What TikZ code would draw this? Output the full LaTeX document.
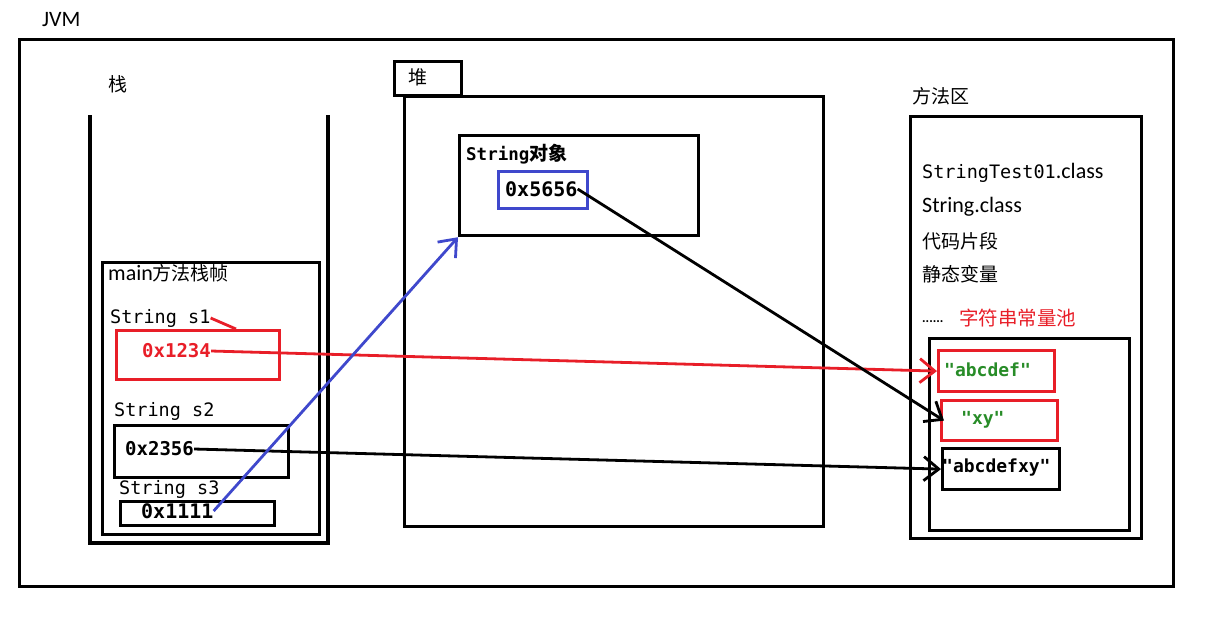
\documentclass[tikz,border=0pt]{standalone}
\usepackage{fontspec}
\setmainfont{Carlito}
\newfontfamily\cjk{Noto Sans CJK SC}
\newfontfamily\mono{DejaVu Sans Mono}
\usetikzlibrary{arrows.meta}
\definecolor{pred}{RGB}{232,30,40}
\definecolor{pblue}{RGB}{63,72,204}
\definecolor{pgreen}{RGB}{40,140,40}
\begin{document}
\begin{tikzpicture}[x=1pt,y=-1pt,
  box/.style={draw,line width=3.2pt,anchor=north west,inner sep=0pt},
  lbl/.style={inner sep=0pt,font=\fontsize{22}{24}\selectfont},
  zh/.style={inner sep=0pt,font=\cjk\fontsize{19}{21}\selectfont},
  monol/.style={inner sep=0pt,font=\mono\fontsize{18.5}{20}\selectfont},
  addr/.style={inner sep=0pt,font=\mono\bfseries\fontsize{19}{21}\selectfont},
  conn/.style={line width=2.8pt,-{Straight Barb[length=15pt,width=24pt,line width=2.8pt]}}]
\useasboundingbox (0,0) rectangle (1224,625);
% JVM
\node[lbl,anchor=west] (jvm) at (42,20) {JVM};
\node[box,minimum width=1154pt,minimum height=547pt] (jvmbox) at (18,38) {};
% stack
\node[zh,anchor=west] (stk) at (108,84) {栈};
\draw[line width=3.2pt] (90,115) coordinate (stl) -- (90,543) -- (328,543) -- (328,115) coordinate (str);
\node[box,minimum width=217pt,minimum height=272pt] (frame) at (101,261) {};
\node[lbl,anchor=west] (framelbl) at (108,273) {main{\cjk\fontsize{19}{21}\selectfont 方法栈帧}};
\node[monol,anchor=west] (s1lbl) at (110,318) {String s1};
\node[box,draw=pred,minimum width=163pt,minimum height=49pt] (s1box) at (115,329) {};
\node[addr,text=pred,anchor=west] (s1) at (142,351) {0x1234};
\draw[pred,line width=2.8pt] (s1lbl.east) -- (236,329);
\node[monol,anchor=west] (s2lbl) at (114,411) {String s2};
\node[box,minimum width=174pt,minimum height=52pt] (s2box) at (113,424) {};
\node[addr,anchor=west] (s2) at (125,449) {0x2356};
\node[monol,anchor=west] (s3lbl) at (119,489) {String s3};
\node[box,minimum width=154pt,minimum height=24pt] (s3box) at (119,500) {};
\node[addr,font=\mono\bfseries\fontsize{20}{21}\selectfont,anchor=west] (s3) at (141,511) {0x1111};
% heap
\node[box,minimum width=67pt,minimum height=34pt] (heaplblbox) at (393,60) {};
\node[zh,anchor=west] (heaplbl) at (408,77) {堆};
\node[box,minimum width=419pt,minimum height=430pt] (heap) at (403,95) {};
\node[box,minimum width=239pt,minimum height=100pt] (strobj) at (458,134) {};
\node[inner sep=0pt,anchor=west] (strobjlbl) at (466,154) {{\mono\bfseries\fontsize{17.5}{19}\selectfont String}{\cjk\bfseries\fontsize{19}{21}\selectfont 对象}};
\node[box,draw=pblue,minimum width=89pt,minimum height=37pt] (refbox) at (497,170) {};
\node[addr,font=\mono\bfseries\fontsize{20}{21}\selectfont,anchor=west] (ref) at (505,189) {0x5656};
% method area
\node[zh,anchor=west] (malbl) at (912,96) {方法区};
\node[box,minimum width=231pt,minimum height=422pt] (ma) at (909,115) {};
\node[lbl,anchor=west] (t1) at (922,173) {{\mono\fontsize{18.5}{20}\selectfont StringTest01}.class};
\node[lbl,anchor=west] (t2) at (922,207) {String.class};
\node[zh,anchor=west] (t3) at (922,241) {代码片段};
\node[zh,anchor=west] (t4) at (922,274) {静态变量};
\node[lbl,anchor=west] (t5) at (922,318) {\fontsize{14}{16}\selectfont ······\hspace{16pt}{\cjk\color{pred}\fontsize{19.5}{21}\selectfont 字符串常量池}};
\node[box,minimum width=200pt,minimum height=192pt] (pool) at (928,337) {};
\node[box,draw=pred,minimum width=116pt,minimum height=41pt] (abcdefbox) at (937,349) {};
\node[addr,text=pgreen,font=\mono\bfseries\fontsize{18}{20}\selectfont,anchor=west] (abcdef) at (944,370) {"abcdef"};
\node[box,draw=pred,minimum width=116pt,minimum height=40pt] (xybox) at (940,399) {};
\node[addr,text=pgreen,font=\mono\bfseries\fontsize{18}{20}\selectfont,anchor=west] (xy) at (961,420) {"xy"};
\node[box,minimum width=117pt,minimum height=41pt] (xyzbox) at (941,447) {};
\node[addr,font=\mono\bfseries\fontsize{18}{20}\selectfont,anchor=west] (abcdefxy) at (942,468) {"abcdefxy"};
% connectors
\draw[conn,pred] (s1.east) -- (abcdefbox.west);
\draw[conn] (s2.east) -- (xyzbox.west);
\draw[conn,pblue] (s3.east) -- (strobj.south west);
\draw[conn] (ref.east) -- ([xshift=4pt]xybox.west);
\end{tikzpicture}
\end{document}
